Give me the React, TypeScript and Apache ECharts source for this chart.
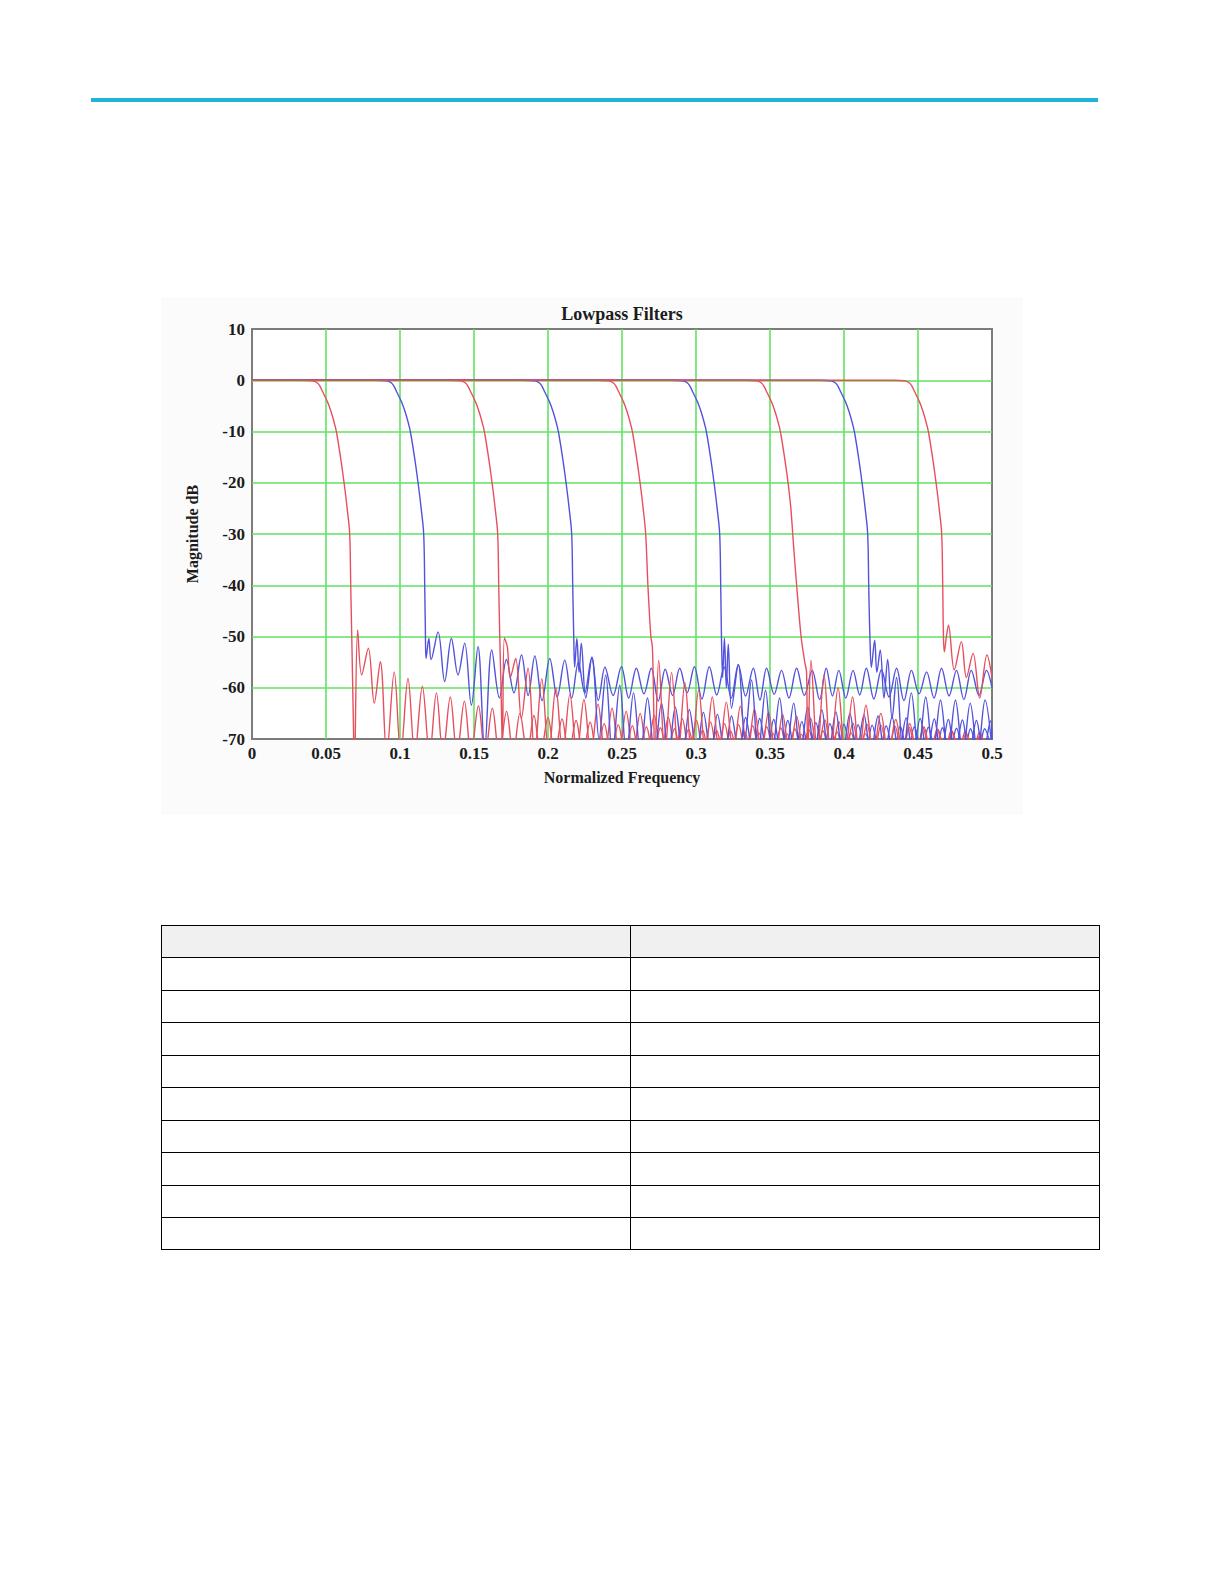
import React, { useEffect, useRef } from 'react';
import * as echarts from 'echarts';

const chartTitle = 'Lowpass Filters';
const xAxisName = 'Normalized Frequency';
const yAxisName = 'Magnitude dB';
const xTickLabels = ['0', '0.05', '0.1', '0.15', '0.2', '0.25', '0.3', '0.35', '0.4', '0.45', '0.5'];
const yTickLabels = ['-70', '-60', '-50', '-40', '-30', '-20', '-10', '0', '10'];

// Flat lists of [normalized frequency, magnitude dB] pairs.
// Stopband nulls fall below the -70 dB floor of the plot and are estimated.
const red050 = [
  0, 0, 0.0335, 0, 0.041, -0.1, 0.044, -0.5, 0.046, -1.2, 0.048, -2.4, 0.051, -4.2, 0.0535, -6.2, 0.0555, -8.2,
  0.057, -10, 0.0598, -15, 0.0622, -20, 0.0643, -25, 0.066, -30, 0.0667, -40, 0.0674, -50, 0.0684, -65,
  0.0692, -76, 0.0714, -48.7, 0.0741, -57.5, 0.0786, -52.3, 0.0826, -63, 0.0867, -54.9, 0.091, -73,
  0.0961, -56.9, 0.1005, -73, 0.1054, -58.2, 0.11, -73, 0.1151, -59.7, 0.12, -73, 0.1246, -61, 0.129, -73,
  0.134, -61.8, 0.1385, -73, 0.1435, -62.6, 0.148, -73, 0.153, -63.5, 0.1575, -73, 0.1624, -64, 0.167, -73,
  0.172, -64.6, 0.1765, -73, 0.181, -65, 0.186, -73, 0.1905, -65.4, 0.195, -73, 0.2, -65.8, 0.2045, -73,
  0.2095, -66.1, 0.214, -73, 0.219, -66.4, 0.2235, -73, 0.2285, -66.7, 0.233, -73, 0.238, -67, 0.2425, -73,
  0.2475, -67.2, 0.252, -73, 0.257, -67.4, 0.2615, -73, 0.2665, -67.6, 0.271, -73, 0.276, -67.8, 0.2805, -73,
  0.2855, -68, 0.29, -73, 0.295, -68.1, 0.2995, -73, 0.3045, -68.3, 0.309, -73, 0.314, -68.4, 0.3185, -73,
  0.3235, -68.5, 0.328, -73, 0.333, -68.6, 0.3375, -73, 0.3425, -68.8, 0.347, -73, 0.352, -68.9, 0.3565, -73,
  0.3615, -69, 0.366, -73, 0.371, -69.1, 0.3755, -73,
];

const blue100 = [
  0, 0, 0.0835, 0, 0.091, -0.1, 0.094, -0.5, 0.096, -1.2, 0.098, -2.4, 0.101, -4.2, 0.1035, -6.2, 0.1055, -8.2,
  0.107, -10, 0.1098, -15, 0.1122, -20, 0.1143, -25, 0.116, -30, 0.1167, -40, 0.1172, -50, 0.1176, -54.3,
  0.1195, -50.4, 0.121, -54.5, 0.1257, -49.1, 0.1302, -58.8, 0.1347, -50.4, 0.1392, -57.5, 0.1437, -51.3,
  0.1482, -63.4, 0.1527, -52, 0.1572, -72, 0.162, -52.6, 0.1672, -62, 0.1719, -54.5, 0.177, -61, 0.1821, -53.6,
  0.1866, -61.5, 0.1911, -53.8, 0.196, -62.5, 0.2012, -54.3, 0.2062, -61.8, 0.2113, -54.6, 0.216, -62,
  0.2205, -55, 0.2248, -61, 0.2295, -54.2, 0.234, -62.5, 0.2385, -56, 0.244, -61.5, 0.2496, -55.9, 0.2545, -62,
  0.2597, -56.2, 0.2648, -61.2, 0.2698, -56.2, 0.2745, -62.6, 0.2792, -56.4, 0.2842, -61.5, 0.289, -56.2,
  0.294, -61, 0.2989, -55.9, 0.304, -62.2, 0.309, -55.9, 0.314, -61.4, 0.319, -56, 0.3238, -62, 0.3286, -55.5,
  0.3335, -61.6, 0.3387, -56.2, 0.3432, -62.4, 0.3477, -56.2, 0.3528, -61.3, 0.3578, -56.6, 0.3628, -62,
  0.368, -56.2, 0.3732, -61.5, 0.3785, -56.6, 0.3835, -62.3, 0.388, -56.2, 0.3922, -61.6, 0.3965, -56.6,
  0.4012, -62, 0.4061, -56.6, 0.4106, -61.4, 0.4151, -56.2, 0.4202, -62.2, 0.4253, -56.5, 0.4304, -61.8,
  0.4355, -56.2, 0.4405, -62.5, 0.4456, -56.6, 0.4507, -61.2, 0.4558, -56.9, 0.4608, -62, 0.4659, -56.2,
  0.471, -61.6, 0.476, -56.6, 0.481, -62.3, 0.486, -56.6, 0.4912, -61.5, 0.4963, -56.6, 0.5, -60,
];

const red150 = [
  0, 0, 0.1335, 0, 0.141, -0.1, 0.144, -0.5, 0.146, -1.2, 0.148, -2.4, 0.151, -4.2, 0.1535, -6.2, 0.1555, -8.2,
  0.157, -10, 0.1598, -15, 0.1622, -20, 0.1643, -25, 0.166, -30, 0.1667, -40, 0.1674, -50, 0.1684, -62,
  0.1692, -72, 0.1705, -50.3, 0.1725, -52, 0.1745, -58, 0.1782, -54.3, 0.182, -66, 0.1865, -56.2, 0.191, -73,
  0.1958, -58.3, 0.2005, -73, 0.2053, -60, 0.21, -73, 0.2148, -61.3, 0.2195, -73, 0.2243, -62.3, 0.229, -73,
  0.2338, -63.2, 0.2385, -73, 0.2433, -64, 0.248, -73, 0.2528, -64.6, 0.2575, -73, 0.2623, -65, 0.267, -73,
  0.2718, -65.4, 0.2765, -73, 0.2813, -65.8, 0.286, -73, 0.2908, -66.1, 0.2955, -73, 0.3003, -66.4, 0.305, -73,
  0.3098, -66.7, 0.3145, -73, 0.3193, -67, 0.324, -73, 0.3288, -67.2, 0.3335, -73, 0.3383, -67.4, 0.343, -73,
  0.3478, -67.6, 0.3525, -73, 0.3573, -67.8, 0.362, -73, 0.3668, -68, 0.3715, -73, 0.3763, -68.2, 0.381, -73,
  0.3858, -68.4, 0.3905, -73, 0.3953, -68.6, 0.4, -73, 0.4048, -68.8, 0.4095, -73, 0.4143, -69, 0.419, -73,
];

const blue200 = [
  0, 0, 0.1835, 0, 0.191, -0.1, 0.194, -0.5, 0.196, -1.2, 0.198, -2.4, 0.201, -4.2, 0.2035, -6.2, 0.2055, -8.2,
  0.207, -10, 0.2098, -15, 0.2122, -20, 0.2143, -25, 0.216, -30, 0.2167, -40, 0.2174, -50, 0.218, -56,
  0.2195, -50.4, 0.221, -57, 0.2225, -51.3, 0.2255, -62, 0.2297, -54, 0.2345, -70, 0.239, -57.5, 0.2435, -73,
  0.2485, -59.5, 0.253, -73, 0.2578, -61, 0.2625, -73, 0.2672, -62, 0.272, -73, 0.2767, -63, 0.2815, -73,
  0.286, -63.8, 0.291, -73, 0.2955, -64.3, 0.3005, -73, 0.305, -64.8, 0.31, -73, 0.3145, -65.2, 0.3195, -73,
  0.324, -65.5, 0.329, -73, 0.3335, -65.8, 0.3385, -73, 0.343, -66, 0.348, -73, 0.3525, -66.2, 0.3575, -73,
  0.362, -66.4, 0.367, -73, 0.3715, -66.6, 0.3765, -73, 0.381, -66.8, 0.386, -73, 0.3905, -67, 0.3955, -73,
  0.4, -67.1, 0.405, -73, 0.4095, -67.2, 0.4145, -73, 0.419, -67.3, 0.424, -73, 0.4285, -67.4, 0.4335, -73,
  0.438, -67.5, 0.443, -73, 0.4475, -67.6, 0.4525, -73, 0.457, -67.7, 0.462, -73, 0.4665, -67.8, 0.4715, -73,
  0.476, -67.9, 0.481, -73, 0.4855, -68, 0.4905, -73, 0.495, -68, 0.5, -73,
];

const red250 = [
  0, 0, 0.2335, 0, 0.241, -0.1, 0.244, -0.5, 0.246, -1.2, 0.248, -2.4, 0.251, -4.2, 0.2535, -6.2, 0.2555, -8.2,
  0.257, -10, 0.2598, -15, 0.2622, -20, 0.2643, -25, 0.266, -30, 0.2675, -40, 0.2695, -50, 0.2705, -52,
  0.2712, -60, 0.2722, -74, 0.2748, -54.6, 0.279, -73, 0.2835, -57, 0.288, -73, 0.2925, -59, 0.297, -73,
  0.3018, -60.5, 0.3064, -73, 0.311, -61.8, 0.3158, -73, 0.3205, -62.8, 0.3252, -73, 0.33, -63.6, 0.3348, -73,
  0.3395, -64.2, 0.3442, -73, 0.349, -64.8, 0.3538, -73, 0.3585, -65.2, 0.3632, -73, 0.368, -65.6, 0.3728, -73,
  0.3775, -66, 0.3822, -73, 0.387, -66.3, 0.3918, -73, 0.3965, -66.6, 0.4012, -73, 0.406, -66.9, 0.4108, -73,
  0.4155, -67.1, 0.4202, -73, 0.425, -67.3, 0.4298, -73, 0.4345, -67.5, 0.4392, -73, 0.444, -67.7, 0.4488, -73,
  0.4535, -67.9, 0.4582, -73, 0.463, -68.1, 0.4678, -73, 0.4725, -68.3, 0.4772, -73, 0.482, -68.5, 0.4868, -73,
  0.4915, -68.7, 0.4962, -73,
];

const blue300 = [
  0, 0, 0.2835, 0, 0.291, -0.1, 0.294, -0.5, 0.296, -1.2, 0.298, -2.4, 0.301, -4.2, 0.3035, -6.2, 0.3055, -8.2,
  0.307, -10, 0.3098, -15, 0.3122, -20, 0.3143, -25, 0.316, -30, 0.3167, -40, 0.3172, -50, 0.318, -58,
  0.3192, -50.3, 0.3205, -60, 0.3218, -51.5, 0.324, -64, 0.3286, -55.5, 0.333, -70, 0.3375, -58.5, 0.342, -73,
  0.347, -60.5, 0.3515, -73, 0.3565, -62, 0.361, -73, 0.366, -63, 0.3705, -73, 0.3755, -63.8, 0.38, -73,
  0.385, -64.3, 0.3895, -73, 0.3945, -64.7, 0.399, -73, 0.404, -65, 0.4085, -73, 0.4135, -65.3, 0.418, -73,
  0.423, -65.5, 0.4275, -73, 0.4325, -65.7, 0.437, -73, 0.442, -65.9, 0.4465, -73, 0.4515, -66, 0.456, -73,
  0.461, -66.1, 0.4655, -73, 0.4705, -66.2, 0.475, -73, 0.48, -66.3, 0.4845, -73, 0.4895, -66.4, 0.494, -73,
  0.499, -66.5, 0.5, -71,
];

const red350 = [
  0, 0, 0.3335, 0, 0.341, -0.1, 0.344, -0.5, 0.346, -1.2, 0.348, -2.4, 0.351, -4.2, 0.3535, -6.2, 0.3555, -8.2,
  0.357, -10, 0.3598, -15, 0.3622, -20, 0.3641, -25, 0.3656, -31, 0.368, -40, 0.371, -50, 0.3735, -55,
  0.3747, -57, 0.3755, -74, 0.3777, -54.6, 0.382, -73, 0.3865, -57.5, 0.391, -73, 0.396, -60, 0.4008, -73,
  0.4058, -61.8, 0.4103, -73, 0.4148, -63.4, 0.4198, -73, 0.4249, -65, 0.43, -73, 0.435, -66.2, 0.4398, -73,
  0.4445, -67, 0.4492, -73, 0.454, -67.6, 0.4588, -73, 0.4635, -68.1, 0.4682, -73, 0.473, -68.5, 0.4778, -73,
  0.4825, -68.9, 0.4872, -73, 0.492, -69.2, 0.4968, -73,
];

const blue400 = [
  0, 0, 0.3835, 0, 0.391, -0.1, 0.394, -0.5, 0.396, -1.2, 0.398, -2.4, 0.401, -4.2, 0.4035, -6.2, 0.4055, -8.2,
  0.407, -10, 0.4098, -15, 0.4122, -20, 0.4143, -25, 0.416, -30, 0.4167, -40, 0.4175, -50, 0.4185, -56,
  0.4207, -50.7, 0.4222, -57, 0.4245, -52.6, 0.427, -62, 0.4295, -54.5, 0.4325, -66, 0.4355, -58, 0.44, -73,
  0.4455, -61, 0.4503, -73, 0.4552, -61.8, 0.4602, -73, 0.4652, -62.4, 0.4702, -73, 0.4753, -62.4, 0.4803, -73,
  0.4853, -63, 0.4903, -73, 0.4953, -62.4, 0.5, -72,
];

const red450 = [
  0, 0, 0.4335, 0, 0.441, -0.1, 0.444, -0.5, 0.446, -1.2, 0.448, -2.4, 0.451, -4.2, 0.4535, -6.2, 0.4555, -8.2,
  0.457, -10, 0.4598, -15, 0.4622, -20, 0.4643, -25, 0.466, -30, 0.4667, -40, 0.4672, -50, 0.4678, -53,
  0.4692, -50, 0.4706, -47.8, 0.4745, -56.5, 0.4793, -51, 0.4827, -58, 0.4872, -53.3, 0.4917, -62, 0.4966, -53.6,
  0.5, -58,
];

const RED = '#e6505e';
const BLUE = '#5252dc';

const filterSeries = [
  { name: 'fc 0.05', color: RED, flat: red050 },
  { name: 'fc 0.10', color: BLUE, flat: blue100 },
  { name: 'fc 0.15', color: RED, flat: red150 },
  { name: 'fc 0.20', color: BLUE, flat: blue200 },
  { name: 'fc 0.25', color: RED, flat: red250 },
  { name: 'fc 0.30', color: BLUE, flat: blue300 },
  { name: 'fc 0.35', color: RED, flat: red350 },
  { name: 'fc 0.40', color: BLUE, flat: blue400 },
  { name: 'fc 0.45', color: RED, flat: red450 },
];

const tableBodyRows = 9;

function toPairs(flat: number[]) {
  const out: number[][] = [];
  for (let i = 0; i + 1 < flat.length; i += 2) out.push([flat[i], flat[i + 1]]);
  return out;
}

const SERIF = '"Liberation Serif", "DejaVu Serif", serif';
const TEXT = '#1c1c1c';

export default function App() {
  const ref = useRef<HTMLDivElement>(null);

  useEffect(() => {
    if (!ref.current) return;
    const chart = echarts.init(ref.current, null, { renderer: 'svg' });
    chart.setOption({
      animation: false,
      graphic: [
        {
          type: 'text',
          x: 622,
          y: 314,
          style: {
            text: chartTitle,
            align: 'center',
            verticalAlign: 'middle',
            fontFamily: SERIF,
            fontWeight: 'bold',
            fontSize: 18,
            fill: TEXT,
          },
        },
      ],
      grid: {
        left: 252,
        top: 329,
        width: 740,
        height: 410,
        show: true,
        backgroundColor: '#ffffff',
        borderColor: '#7c7c7c',
        borderWidth: 2,
      },
      xAxis: {
        type: 'value',
        min: 0,
        max: 0.5,
        interval: 0.05,
        name: xAxisName,
        nameLocation: 'middle',
        nameGap: 30,
        nameTextStyle: { fontFamily: SERIF, fontWeight: 'bold', fontSize: 16, color: TEXT },
        axisLine: { show: false },
        axisTick: { show: false },
        axisLabel: {
          margin: 6,
          fontFamily: SERIF,
          fontWeight: 'bold',
          fontSize: 17,
          color: TEXT,
          formatter: (v: number) => xTickLabels[Math.round(v / 0.05)] ?? String(v),
        },
        splitLine: {
          show: true,
          showMinLine: false,
          showMaxLine: false,
          lineStyle: { color: '#62e262', width: 1.6 },
        },
      },
      yAxis: {
        type: 'value',
        min: -70,
        max: 10,
        interval: 10,
        name: yAxisName,
        nameLocation: 'middle',
        nameRotate: 90,
        nameGap: 52,
        nameTextStyle: { fontFamily: SERIF, fontWeight: 'bold', fontSize: 16, color: TEXT },
        axisLine: { show: false },
        axisTick: { show: false },
        axisLabel: {
          margin: 7,
          fontFamily: SERIF,
          fontWeight: 'bold',
          fontSize: 17,
          color: TEXT,
          formatter: (v: number) => yTickLabels[Math.round((v + 70) / 10)] ?? String(v),
        },
        splitLine: {
          show: true,
          showMinLine: false,
          showMaxLine: false,
          lineStyle: { color: '#62e262', width: 1.6 },
        },
      },
      series: filterSeries.map((s) => ({
        name: s.name,
        type: 'line',
        data: toPairs(s.flat),
        showSymbol: false,
        symbol: 'none',
        smooth: 0.35,
        clip: true,
        lineStyle: { color: s.color, width: 1.4 },
        itemStyle: { color: s.color },
        emphasis: { disabled: true },
      })),
    });
    return () => chart.dispose();
  }, []);

  const rowH = 32.44;
  const rows = Array.from({ length: tableBodyRows + 1 }, (_, i) => i);

  return (
    <div>
      <div style={{ position: 'absolute', left: 91, top: 98, width: 1007, height: 4, background: '#1fb3d5' }} />
      <div style={{ position: 'absolute', left: 161, top: 297, width: 862, height: 518, background: '#fbfbfb' }} />
      <div ref={ref} style={{ position: 'absolute', left: 0, top: 0, width: 1224, height: 880 }} />
      {rows.map((i) => (
        <div
          key={i}
          style={{
            position: 'absolute',
            left: 161,
            top: 925 + i * rowH,
            width: 939,
            height: rowH + 1,
            boxSizing: 'border-box',
            border: '1px solid #000',
            background: i === 0 ? '#f0f0f0' : '#ffffff',
            display: 'flex',
          }}
        >
          <div style={{ width: 469, height: '100%', boxSizing: 'border-box', borderRight: '1px solid #000' }} />
          <div style={{ flex: 1, height: '100%' }} />
        </div>
      ))}
    </div>
  );
}
